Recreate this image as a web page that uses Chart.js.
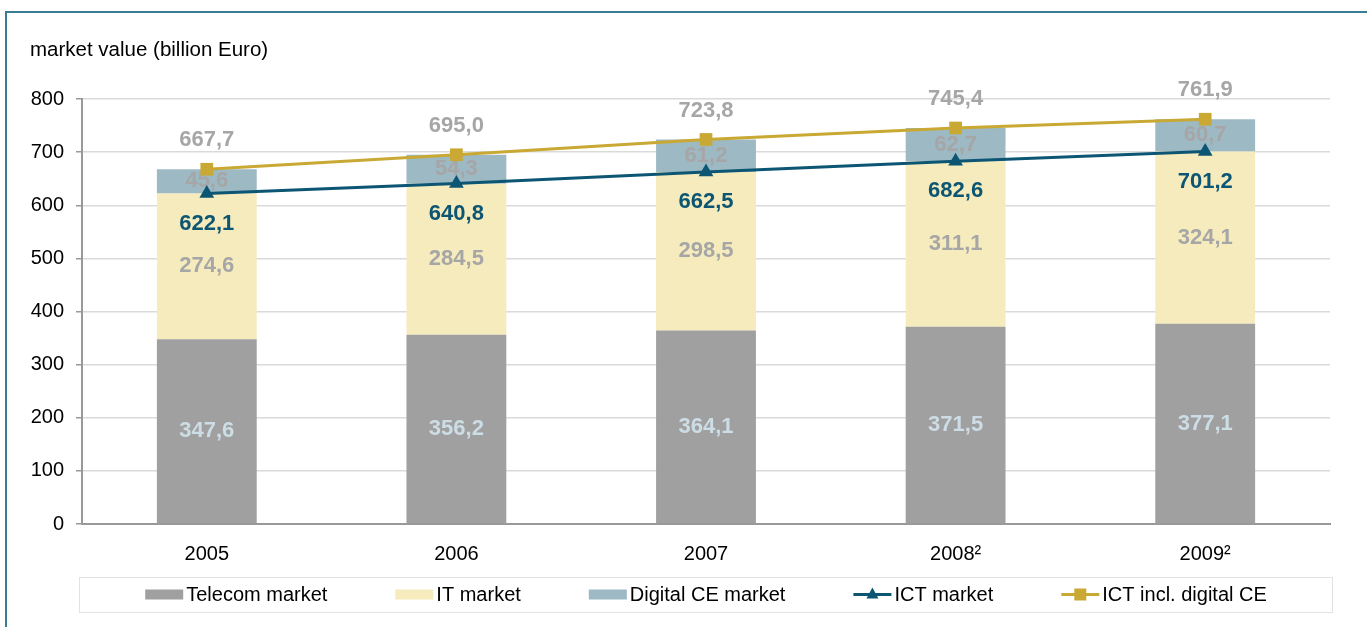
<!DOCTYPE html>
<html>
<head>
<meta charset="utf-8">
<script src="https://cdn.jsdelivr.net/npm/chart.js@4/dist/chart.umd.min.js"></script>
<style>
  html, body { margin: 0; padding: 0; background: #fff; overflow: hidden; }
</style>
</head>
<body>
<canvas id="graph" width="1367" height="627"></canvas>
<script>
// values
const years = ['2005', '2006', '2007', '2008²', '2009²'];
const telecom = [347.6, 356.2, 364.1, 371.5, 377.1];
const itMarket = [274.6, 284.5, 298.5, 311.1, 324.1];
const digitalCE = [45.6, 54.3, 61.2, 62.7, 60.7];
const ictMarket = [622.1, 640.8, 662.5, 682.6, 701.2];
const ictInclCE = [667.7, 695.0, 723.8, 745.4, 761.9];
const yMax = 800;
const yStep = 100;

const FONT = '"Liberation Sans", Arial, sans-serif';
const fmt = v => v.toFixed(1).replace('.', ',');

// frame + axis title
const framePlugin = {
  id: 'frame',
  beforeDraw(chart) {
    const ctx = chart.ctx;
    ctx.save();
    ctx.strokeStyle = '#3a7c93';
    ctx.lineWidth = 2;
    ctx.beginPath();
    ctx.moveTo(6, 627);
    ctx.lineTo(6, 12);
    ctx.lineTo(1367, 12);
    ctx.stroke();
    ctx.fillStyle = '#000';
    ctx.font = '20.5px ' + FONT;
    ctx.textBaseline = 'middle';
    ctx.fillText('market value (billion Euro)', 30, 50);
    ctx.restore();
  }
};

// value labels, drawn right after each dataset so the lines cover the bar labels
const labelPlugin = {
  id: 'valueLabels',
  afterDatasetDraw(chart, args) {
    const ds = chart.data.datasets[args.index];
    const ctx = chart.ctx;
    ctx.save();
    ctx.font = 'bold 22px ' + FONT;
    ctx.textAlign = 'center';
    ctx.textBaseline = 'middle';
    ctx.fillStyle = ds.labelColor;
    args.meta.data.forEach((el, i) => {
      const y = ds.type === 'bar' ? (el.y + el.base) / 2 : el.y + ds.labelOffset;
      ctx.fillText(fmt(ds.data[i]), el.x, y);
    });
    ctx.restore();
  }
};

// boxed legend under the axis
const legendPlugin = {
  id: 'boxLegend',
  afterDraw(chart) {
    const ctx = chart.ctx;
    const a = chart.chartArea;
    const top = 577, h = 35, cy = top + h / 2;
    ctx.save();
    ctx.strokeStyle = '#e2e2e2';
    ctx.lineWidth = 1;
    ctx.strokeRect(a.left - 2.5, top + 0.5, a.right - a.left + 5, h);
    ctx.font = '20px ' + FONT;
    ctx.textBaseline = 'middle';
    const items = chart.data.datasets.map(ds => ({ ds, w: 38 + 3 + ctx.measureText(ds.label).width }));
    const gap = 68;
    const total = items.reduce((s, it) => s + it.w, 0) + gap * (items.length - 1);
    let x = (a.left + a.right) / 2 - total / 2;
    items.forEach(({ ds, w }) => {
      if (ds.type === 'bar') {
        ctx.fillStyle = ds.backgroundColor;
        ctx.fillRect(x, cy - 5, 38, 10);
      } else {
        ctx.strokeStyle = ds.borderColor;
        ctx.lineWidth = 3;
        ctx.beginPath();
        ctx.moveTo(x, cy);
        ctx.lineTo(x + 38, cy);
        ctx.stroke();
        ctx.fillStyle = ds.borderColor;
        ctx.beginPath();
        if (ds.pointStyle === 'triangle') {
          ctx.moveTo(x + 19, cy - 7);
          ctx.lineTo(x + 25, cy + 4);
          ctx.lineTo(x + 13, cy + 4);
        } else {
          ctx.rect(x + 13, cy - 6, 12, 12);
        }
        ctx.fill();
      }
      ctx.fillStyle = '#000';
      ctx.fillText(ds.label, x + 41, cy + 1);
      x += w + gap;
    });
    ctx.restore();
  }
};

const data = {
  labels: years,
  datasets: [
    { type: 'bar', label: 'Telecom market', data: telecom, backgroundColor: '#a0a0a0',
      stack: 'bars', order: 3, labelColor: '#cddde5' },
    { type: 'bar', label: 'IT market', data: itMarket, backgroundColor: '#f5ebbc',
      stack: 'bars', order: 3, labelColor: '#a6a6a6' },
    { type: 'bar', label: 'Digital CE market', data: digitalCE, backgroundColor: '#9cb9c4',
      stack: 'bars', order: 3, labelColor: '#a6a6a6' },
    { type: 'line', label: 'ICT market', data: ictMarket, borderColor: '#0c5673', backgroundColor: '#0c5673',
      borderWidth: 3, pointStyle: 'triangle', pointRadius: 8.5, pointBorderWidth: 0,
      stack: 'ict', order: 1, labelColor: '#0c5673', labelOffset: 30 },
    { type: 'line', label: 'ICT incl. digital CE', data: ictInclCE, borderColor: '#c9a933', backgroundColor: '#c9a933',
      borderWidth: 3, pointStyle: 'rect', pointRadius: 9, pointBorderWidth: 0,
      stack: 'ictce', order: 1, labelColor: '#a6a6a6', labelOffset: -29 }
  ]
};

const config = {
  data: data,
  options: {
    responsive: false,
    animation: false,
    layout: { padding: { left: 28, right: 37, top: 99, bottom: 50 } },
    datasets: { bar: { barPercentage: 0.4, categoryPercentage: 1 } },
    plugins: { legend: { display: false }, tooltip: { enabled: false } },
    scales: {
      x: {
        stacked: true,
        grid: { display: false },
        border: { display: true, color: '#999', width: 2 },
        ticks: { color: '#000', font: { size: 20, family: FONT }, padding: 10 },
        afterFit: s => { s.height = 53; }
      },
      y: {
        stacked: true,
        min: 0,
        max: yMax,
        ticks: { stepSize: yStep, color: '#000', font: { size: 20, family: FONT }, padding: 12 },
        grid: { color: '#dadada', lineWidth: 1.5, tickColor: '#999', tickLength: 6 },
        border: { display: true, color: '#999', width: 2 },
        afterFit: s => { s.width = 54; }
      }
    }
  },
  plugins: [framePlugin, labelPlugin, legendPlugin]
};

const graph = document.querySelector('#graph');
new Chart(graph, config);
</script>
</body>
</html>
